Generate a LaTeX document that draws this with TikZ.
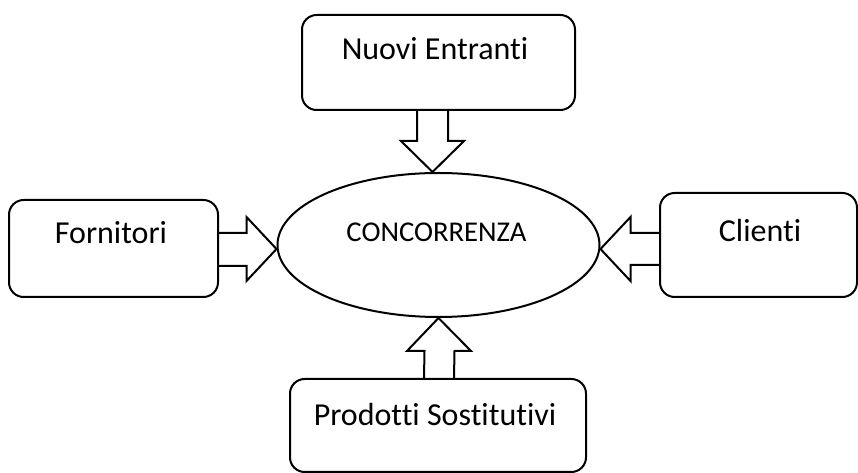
\documentclass[tikz,border=0pt]{standalone}
\usepackage{fontspec}
\setmainfont[Ligatures=NoCommon]{Carlito}
\usetikzlibrary{calc,shapes.geometric}
\tikzset{
  px/.style={x=0.75pt,y=-0.75pt},
  boxst/.style={draw,line width=1.5pt,rounded corners=11pt,inner sep=0pt},
  lbl/.style={font=\fontsize{24pt}{28pt}\selectfont,inner sep=0pt,anchor=base},
  blk/.style={draw,line width=1.5pt,line join=miter},
}
\begin{document}
\begin{tikzpicture}[px]
\useasboundingbox (0,0) rectangle (858,473);
% boxes
\node[boxst,minimum width=204.75pt,minimum height=71.25pt] (top) at (438.5,62.5) {};
\node[boxst,minimum width=156.75pt,minimum height=72.75pt] (left) at (113.5,248.5) {};
\node[boxst,minimum width=147.75pt,minimum height=78pt] (right) at (758.5,245) {};
\node[boxst,minimum width=222pt,minimum height=69.75pt] (bot) at (438,425.5) {};
% ellipse
\node[draw,line width=1.5pt,ellipse,minimum width=241.5pt,minimum height=108pt,inner sep=0pt] (ell) at (438.5,245) {};
% labels
\node[lbl] (tN) at (435,60) {Nuovi Entranti};
\node[lbl] (tF) at (111,244) {Fornitori};
\node[lbl] (tC) at (760,242) {Clienti};
\node[lbl] (tP) at (435,426) {Prodotti Sostitutivi};
\node[inner sep=0pt,anchor=base,font=\fontsize{21.5pt}{26pt}\selectfont] (tc) at (436.5,242) {CONCORRENZA};
% top arrow
\draw[blk] ($(top.south)+(-21.5,0)$) -- ($(ell.north)+(-21.5,-31)$) -- ($(ell.north)+(-37.5,-31)$)
  -- ($(ell.north)+(-6,0)$) -- ($(ell.north)+(25.5,-31)$) -- ($(ell.north)+(9.5,-31)$) -- ($(top.south)+(9.5,0)$);
% left arrow
\draw[blk] ($(left.east)+(0,-15.5)$) -- ($(ell.west)+(-30,-12)$) -- ($(ell.west)+(-30,-28)$)
  -- ($(ell.west)+(0,4)$) -- ($(ell.west)+(-30,36)$) -- ($(ell.west)+(-30,21)$) -- ($(left.east)+(0,17.5)$);
% right arrow
\draw[blk] ($(right.west)+(0,-12)$) -- ($(ell.east)+(30,-12)$) -- ($(ell.east)+(30,-28)$)
  -- ($(ell.east)+(0,4)$) -- ($(ell.east)+(30,36)$) -- ($(ell.east)+(30,20)$) -- ($(right.west)+(0,20)$);
% bottom arrow
\draw[blk] ($(bot.north)+(-14,0)$) -- ($(ell.south)+(-14,33)$) -- ($(ell.south)+(-31.5,33)$)
  -- ($(ell.south)+(0,0)$) -- ($(ell.south)+(32.5,33)$) -- ($(ell.south)+(16,33)$) -- ($(bot.north)+(16,0)$);
\end{tikzpicture}
\end{document}
